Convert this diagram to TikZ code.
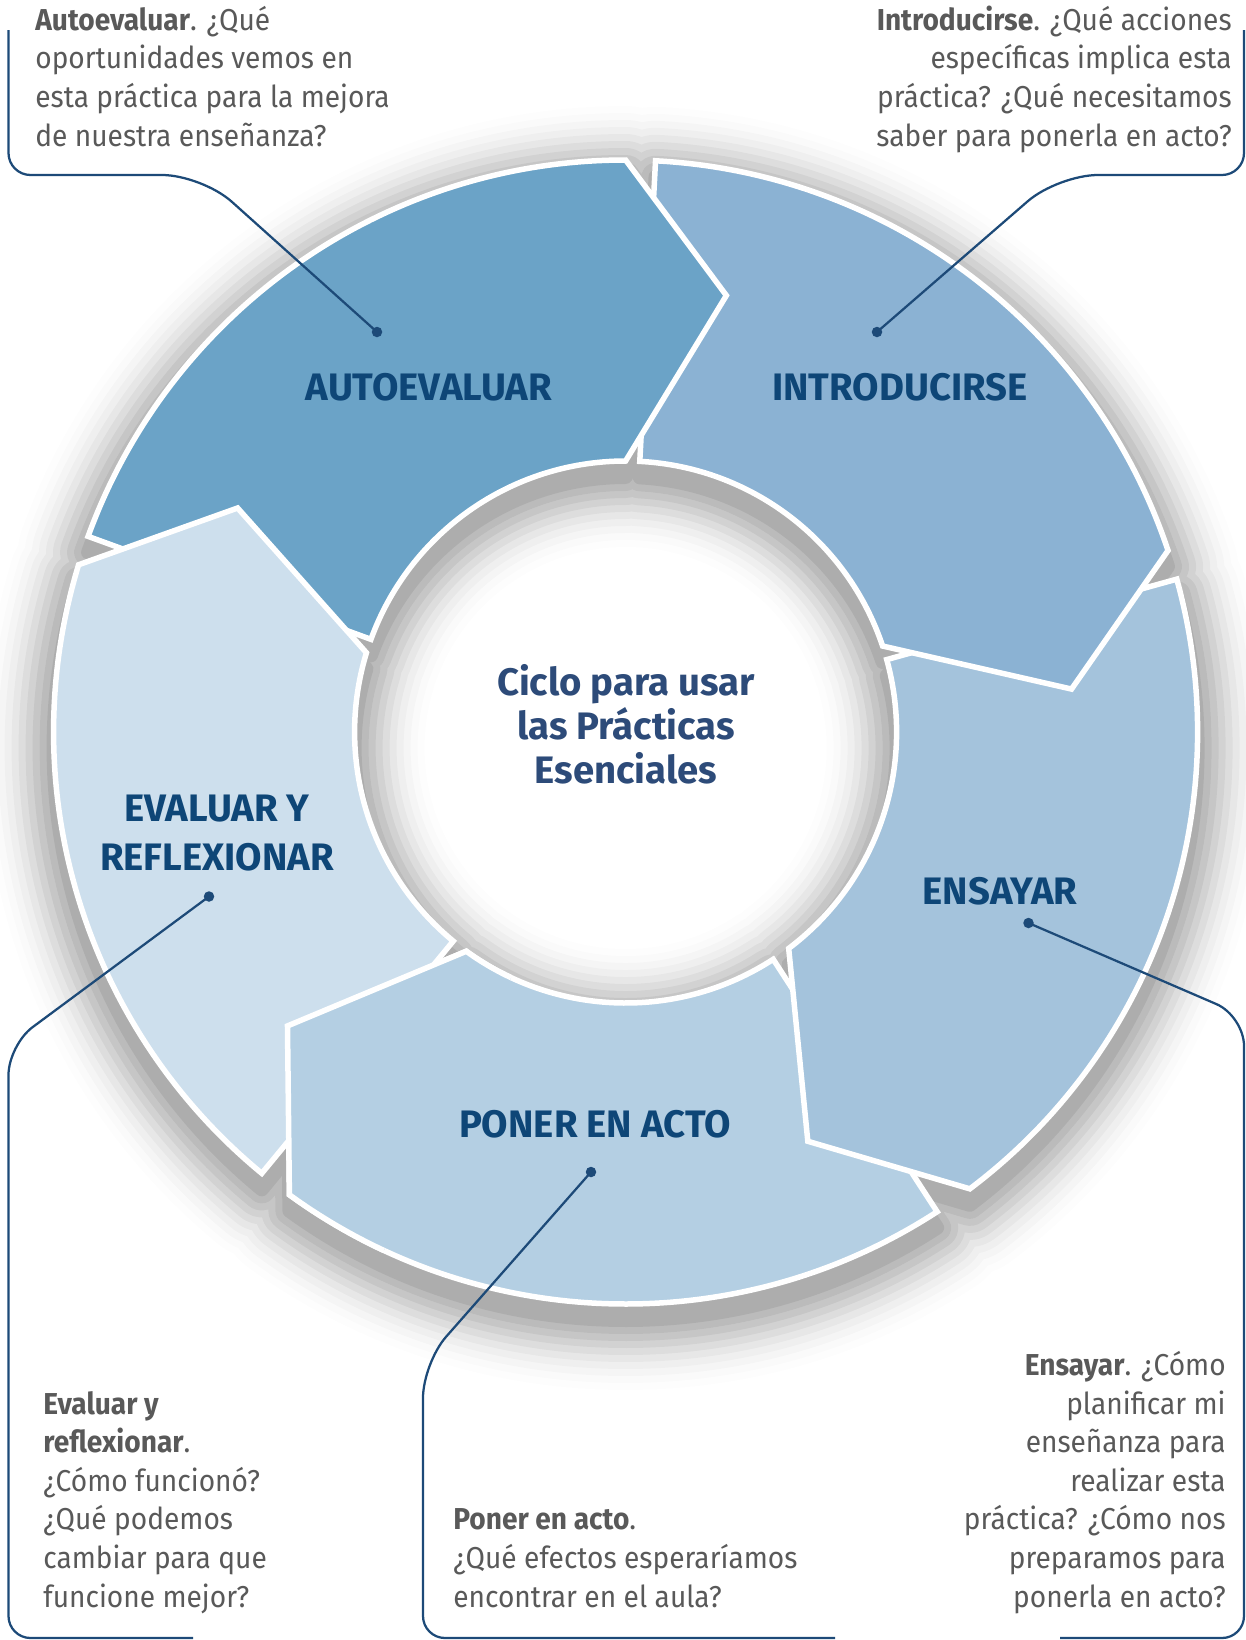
\documentclass[tikz,border=0pt]{standalone}
\usepackage{fontspec}
\setmainfont{Fira Sans}
\newfontfamily\bodyfont[FakeStretch = 0.93]{Fira Sans}

\definecolor{autoevalfill}{HTML}{6BA3C7}
\definecolor{introfill}{HTML}{8BB2D3}
\definecolor{ensayofill}{HTML}{A4C3DC}
\definecolor{ponerfill}{HTML}{B4CFE3}
\definecolor{evalfill}{HTML}{CDDFED}
\definecolor{labelblue}{HTML}{0E4677}
\definecolor{titleblue}{HTML}{2D4B79}
\definecolor{lineblue}{HTML}{1D4A78}
\definecolor{textgray}{HTML}{595959}

\begin{document}
\begin{tikzpicture}[x = 0.02cm, y = 0.02cm,
  piece/.style = {draw = white, line width = 0.11cm},
  seglabel/.style = {font = \fontsize{21.8}{27.8}\selectfont\bfseries, text = labelblue, align = center, inner sep = 0pt},
  bodytext/.style = {font = \bodyfont\fontsize{17.2}{21.94}\selectfont, text = textgray, inner sep = 0pt},
  leader/.style = {draw = lineblue, line width = 0.045cm},
  enddot/.style = {circle, fill = lineblue, inner sep = 0pt, minimum size = 0.21cm}]

  % Ring radii (outer, inner, arrow tip)
  \newcommand{\Rout}{572}
  \newcommand{\Rin}{271}
  \newcommand{\Rtip}{448}
  % Outline of one arrow piece: tail angle, head angle
  \newcommand{\piecepath}[2]{(#1:\Rout) arc (#1:#2:\Rout) -- (#2-13:\Rtip)
      -- (#2:\Rin) arc (#2:#1:\Rin) -- cycle}
  \newcommand{\ringpiece}[3]{\draw[piece, fill = #1] \piecepath{#2}{#3};}

  \useasboundingbox (0,0) rectangle (1246,-1640);
  \fill[white] (0,0) rectangle (1246,-1640);

  \begin{scope}[shift = {(625.6,-732)}]
    % Soft shadow of all pieces, cast downwards
    \foreach \k/\a in {1/0.064, 2/0.058, 3/0.051, 4/0.045, 5/0.038,
                       6/0.032, 7/0.025, 8/0.019, 9/0.013, 10/0.006} {
      \begin{scope}[transparency group, opacity = \a, shift = {(0,-16)}]
        \filldraw[black, line width = \k*0.28cm, line join = round]
          \piecepath{-57}{-126} \piecepath{15.5}{-53} \piecepath{87}{18.5}
          \piecepath{160}{90} \piecepath{230.5}{163};
      \end{scope}
    }

    % Draw the pieces
    \ringpiece{ponerfill}{-57}{-126}     % Poner en acto
    \ringpiece{ensayofill}{15.5}{-53}    % Ensayar
    \ringpiece{introfill}{87}{18.5}      % Introducirse
    \ringpiece{autoevalfill}{160}{90}    % Autoevaluar
    \ringpiece{evalfill}{230.5}{163}     % Evaluar y reflexionar
    % Poner en acto head goes over the tail of Evaluar
    \begin{scope}
      \clip (0,0) -- (205:700) -- (245:700) -- cycle;
      \ringpiece{ponerfill}{-57}{-126}
    \end{scope}
  \end{scope}

  % Labels (base = last line)
  \node[seglabel, anchor = base] (autoeval) at (429,-400) {AUTOEVALUAR};
  \node[seglabel, anchor = base] (intro) at (900,-400) {INTRODUCIRSE};
  \node[seglabel, anchor = base] (ensayar) at (1000,-904) {ENSAYAR};
  \node[seglabel, anchor = base] (poner) at (595,-1137.5) {PONER EN ACTO};
  \node[seglabel, anchor = base] (evaluar) at (217,-870.6) {EVALUAR Y\\REFLEXIONAR};
  \node[font = \fontsize{21.8}{24.9}\selectfont\bfseries, text = titleblue, align = center,
    inner sep = 0pt, anchor = base] (ciclo) at (626,-783)
    {Ciclo para usar\\las Prácticas\\Esenciales};

  % Leader lines
  \node[enddot] (dotA) at (377,-332) {};
  \node[enddot] (dotI) at (877,-332) {};
  \node[enddot] (dotE) at (1028.5,-923) {};
  \node[enddot] (dotP) at (591,-1172) {};
  \node[enddot] (dotV) at (209,-896.5) {};

  \coordinate (kneeA) at (202,-175);   \coordinate (cornerA) at (8.5,-175);    \coordinate (endA) at (8.5,-30);
  \coordinate (kneeI) at (1058,-175);  \coordinate (cornerI) at (1244,-175);   \coordinate (endI) at (1244,-30);
  \coordinate (kneeE) at (1244,-1016); \coordinate (cornerE) at (1244,-1638);  \coordinate (endE) at (1060,-1638);
  \coordinate (kneeP) at (423,-1363);  \coordinate (cornerP) at (423,-1638);   \coordinate (endP) at (835,-1638);
  \coordinate (kneeV) at (8.5,-1045);  \coordinate (cornerV) at (8.5,-1638);   \coordinate (endV) at (193,-1638);

  \draw[leader] (dotA.center) [rounded corners = 0.8cm] -- (kneeA) [rounded corners = 0.44cm] -- (cornerA) -- (endA);
  \draw[leader] (dotI.center) [rounded corners = 0.8cm] -- (kneeI) [rounded corners = 0.44cm] -- (cornerI) -- (endI);
  \draw[leader] (dotE.center) [rounded corners = 0.6cm] -- (kneeE) [rounded corners = 0.44cm] -- (cornerE) -- (endE);
  \draw[leader] (dotP.center) [rounded corners = 0.7cm] -- (kneeP) [rounded corners = 0.44cm] -- (cornerP) -- (endP);
  \draw[leader] (dotV.center) [rounded corners = 0.6cm] -- (kneeV) [rounded corners = 0.44cm] -- (cornerV) -- (endV);

  % Questions (base = last line)
  \node[bodytext, align = left, anchor = base west] (txtA) at (35,-146)
    {\textbf{Autoevaluar}. ¿Qué\\oportunidades vemos en\\esta práctica para la mejora\\de nuestra enseñanza?};
  \node[bodytext, align = right, anchor = base east] (txtI) at (1232,-146)
    {\textbf{Introducirse}. ¿Qué acciones\\específicas implica esta\\práctica? ¿Qué necesitamos\\saber para ponerla en acto?};
  \node[bodytext, align = right, anchor = base east] (txtE) at (1226,-1607)
    {\textbf{Ensayar}. ¿Cómo\\planificar mi\\enseñanza para\\realizar esta\\práctica? ¿Cómo nos\\preparamos para\\ponerla en acto?};
  \node[bodytext, align = left, anchor = base west] (txtP) at (453,-1607)
    {\textbf{Poner en acto}.\\¿Qué efectos esperaríamos\\encontrar en el aula?};
  \node[bodytext, align = left, anchor = base west] (txtV) at (43,-1607)
    {\textbf{Evaluar y}\\\textbf{reflexionar}.\\¿Cómo funcionó?\\¿Qué podemos\\cambiar para que\\funcione mejor?};
\end{tikzpicture}
\end{document}
